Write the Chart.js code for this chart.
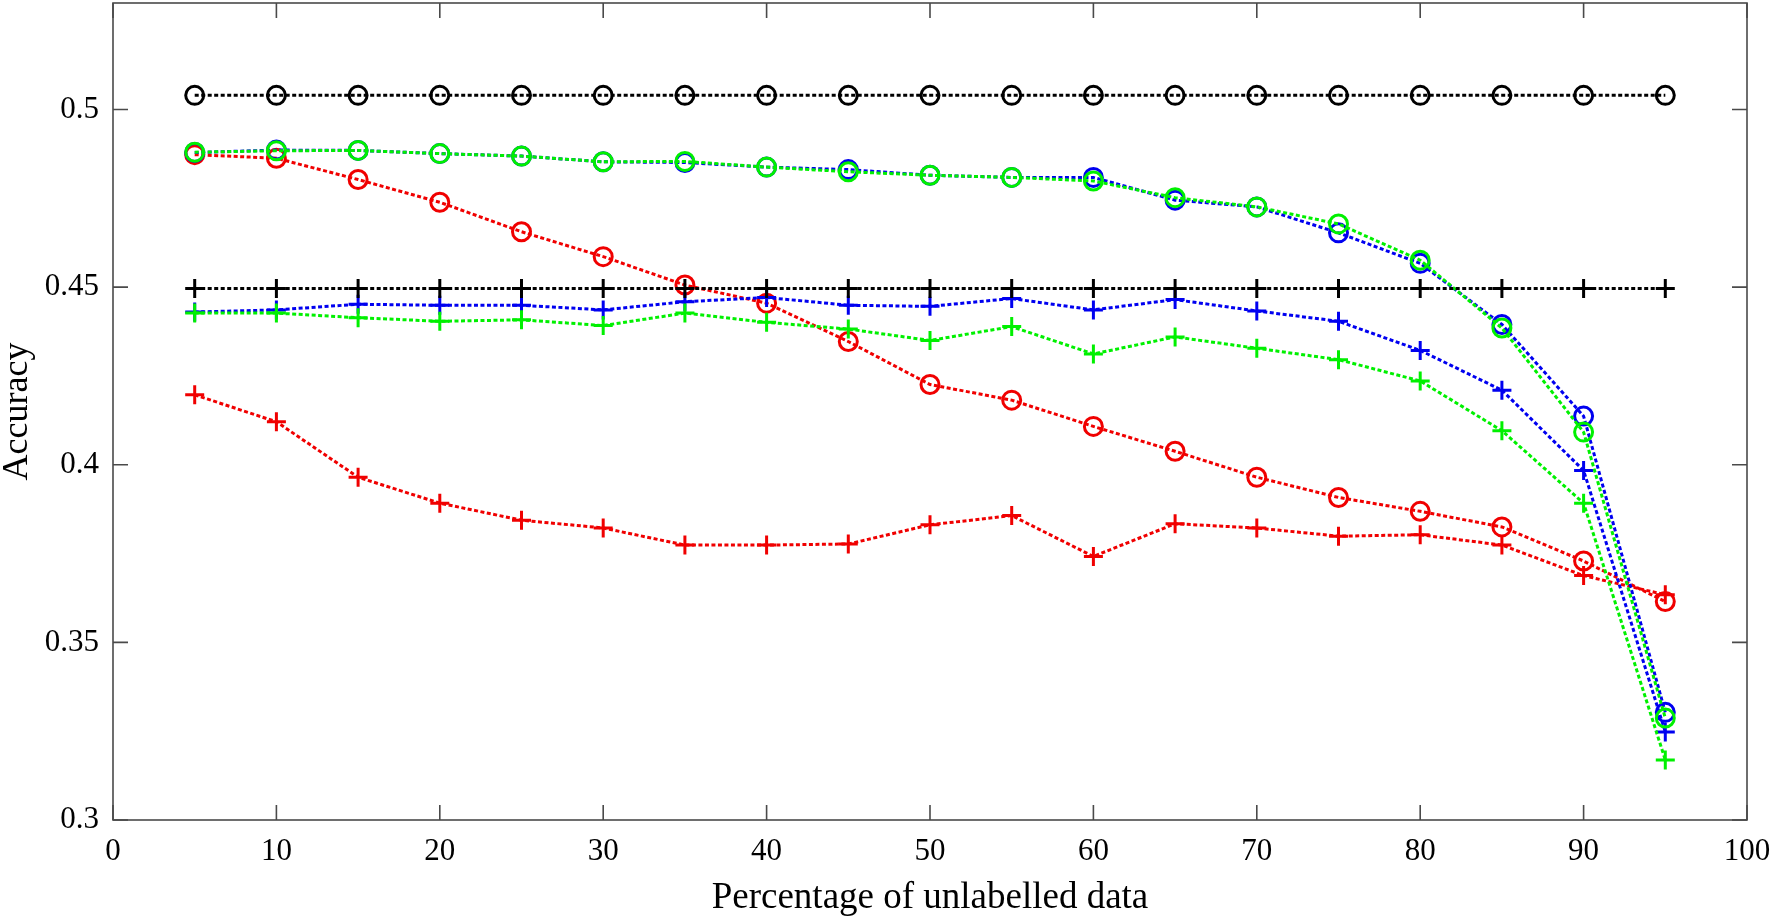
<!DOCTYPE html>
<html lang="en">
<head>
<meta charset="UTF-8" />
<title>Accuracy vs percentage of unlabelled data</title>
<script src="https://cdn.jsdelivr.net/npm/chart.js"></script>
<style>
  body { margin: 0; background: #ffffff; }
  .chart-box { width: 1770px; height: 924px; position: relative; }
</style>
</head>
<body>

<div class="chart-box"><canvas id="accChart"></canvas></div>

<script>
  // x positions (percentage of unlabelled data)
  const unlabelledPct = [5, 10, 15, 20, 25, 30, 35, 40, 45, 50, 55, 60, 65, 70, 75, 80, 85, 90, 95];
  const xTickValues = [0, 10, 20, 30, 40, 50, 60, 70, 80, 90, 100];
  const yTickValues = [0.3, 0.35, 0.4, 0.45, 0.5];

  // series values
  const blackCircle = [0.504, 0.504, 0.504, 0.504, 0.504, 0.504, 0.504, 0.504, 0.504, 0.504,
                       0.504, 0.504, 0.504, 0.504, 0.504, 0.504, 0.504, 0.504, 0.504];
  const blackPlus   = [0.4496, 0.4496, 0.4496, 0.4496, 0.4496, 0.4496, 0.4496, 0.4496, 0.4496, 0.4496,
                       0.4496, 0.4496, 0.4496, 0.4496, 0.4496, 0.4496, 0.4496, 0.4496, 0.4496];
  const blueCircle  = [0.4879, 0.4886, 0.4885, 0.4876, 0.4869, 0.4853, 0.4851, 0.4838, 0.4831, 0.4815,
                       0.4809, 0.4809, 0.4745, 0.4726, 0.4653, 0.4567, 0.4395, 0.4137, 0.3303];
  const greenCircle = [0.4880, 0.4884, 0.4885, 0.4876, 0.4869, 0.4853, 0.4854, 0.4838, 0.4825, 0.4815,
                       0.4809, 0.4799, 0.4752, 0.4726, 0.4678, 0.4576, 0.4385, 0.4092, 0.3287];
  const bluePlus    = [0.4430, 0.4436, 0.4452, 0.4449, 0.4449, 0.4436, 0.4459, 0.4471, 0.4449, 0.4446,
                       0.4468, 0.4436, 0.4465, 0.4433, 0.4404, 0.4322, 0.4210, 0.3984, 0.3248];
  const greenPlus   = [0.4427, 0.4427, 0.4414, 0.4404, 0.4408, 0.4392, 0.4427, 0.4401, 0.4382, 0.4350,
                       0.4389, 0.4312, 0.4360, 0.4328, 0.4296, 0.4236, 0.4096, 0.3892, 0.3169];
  const redCircle   = [0.4873, 0.4863, 0.4803, 0.4739, 0.4656, 0.4586, 0.4506, 0.4455, 0.4347, 0.4226,
                       0.4182, 0.4108, 0.4038, 0.3965, 0.3908, 0.3869, 0.3825, 0.3729, 0.3615];
  const redPlus     = [0.4197, 0.4121, 0.3965, 0.3892, 0.3844, 0.3822, 0.3774, 0.3774, 0.3777, 0.3831,
                       0.3857, 0.3742, 0.3834, 0.3822, 0.3799, 0.3803, 0.3774, 0.3688, 0.3634];

  const FONT = "'Liberation Serif', 'Times New Roman', serif";

  function toPoints(values) {
    return values.map((v, i) => ({ x: unlabelledPct[i], y: v }));
  }

  // one dotted line with circle or plus markers
  function makeSeries(label, values, color, marker) {
    return {
      label: label,
      data: toPoints(values),
      borderColor: color,
      backgroundColor: 'transparent',
      borderWidth: 3,
      borderDash: [4, 2.5],
      pointStyle: marker,
      pointRadius: marker === 'circle' ? 9 : 9.5,
      pointBorderWidth: 3,
      pointBorderColor: color,
      pointBackgroundColor: 'transparent',
      tension: 0
    };
  }

  // first dataset is drawn on top
  const datasets = [
    makeSeries('black o', blackCircle, '#000000', 'circle'),
    makeSeries('black +', blackPlus, '#000000', 'cross'),
    makeSeries('green o', greenCircle, '#00f000', 'circle'),
    makeSeries('blue o', blueCircle, '#0000f0', 'circle'),
    makeSeries('green +', greenPlus, '#00f000', 'cross'),
    makeSeries('blue +', bluePlus, '#0000f0', 'cross'),
    makeSeries('red o', redCircle, '#f00000', 'circle'),
    makeSeries('red +', redPlus, '#f00000', 'cross')
  ];

  // box around the plot with inward ticks, MATLAB style
  const framePlugin = {
    id: 'frame',
    afterDatasetsDraw(chart) {
      const { ctx, chartArea: a, scales } = chart;
      const len = 15;
      ctx.save();
      ctx.strokeStyle = '#4a4a4a';
      ctx.lineWidth = 1.6;
      ctx.strokeRect(a.left, a.top, a.right - a.left, a.bottom - a.top);
      ctx.beginPath();
      xTickValues.forEach(v => {
        const px = scales.x.getPixelForValue(v);
        ctx.moveTo(px, a.bottom); ctx.lineTo(px, a.bottom - len);
        ctx.moveTo(px, a.top); ctx.lineTo(px, a.top + len);
      });
      yTickValues.forEach(v => {
        const py = scales.y.getPixelForValue(v);
        ctx.moveTo(a.left, py); ctx.lineTo(a.left + len, py);
        ctx.moveTo(a.right, py); ctx.lineTo(a.right - len, py);
      });
      ctx.stroke();
      ctx.restore();
    }
  };

  const ctx = document.getElementById('accChart').getContext('2d');

  new Chart(ctx, {
    type: 'line',
    data: { datasets: datasets },
    plugins: [framePlugin],
    options: {
      responsive: true,
      maintainAspectRatio: false,
      animation: false,
      events: [],
      layout: { autoPadding: false, padding: { left: 0, top: 3, right: 23, bottom: 0 } },
      plugins: {
        legend: { display: false },
        tooltip: { enabled: false }
      },
      scales: {
        x: {
          type: 'linear',
          min: 0,
          max: 100,
          afterFit: s => { s.height = 104; s.paddingLeft = 0; s.paddingRight = 0; },
          afterBuildTicks: s => { s.ticks = xTickValues.map(v => ({ value: v })); },
          grid: { display: false, drawTicks: false },
          border: { display: false },
          ticks: {
            padding: 13,
            color: '#000000',
            font: { family: FONT, size: 31 },
            maxRotation: 0
          },
          title: {
            display: true,
            text: 'Percentage of unlabelled data',
            color: '#000000',
            font: { family: FONT, size: 37 },
            padding: { top: 0, bottom: 4 }
          }
        },
        y: {
          type: 'linear',
          min: 0.3,
          max: 0.53,
          afterFit: s => { s.width = 113; s.paddingTop = 0; s.paddingBottom = 0; },
          afterBuildTicks: s => { s.ticks = yTickValues.map(v => ({ value: v })); },
          grid: { display: false, drawTicks: false },
          border: { display: false },
          ticks: {
            padding: 14,
            color: '#000000',
            font: { family: FONT, size: 31 },
            callback: v => String(parseFloat(v.toFixed(2)))
          },
          title: {
            display: true,
            text: 'Accuracy',
            color: '#000000',
            font: { family: FONT, size: 36, lineHeight: 1.0 },
            padding: { top: 0, bottom: 0 }
          }
        }
      }
    }
  });
</script>

</body>
</html>
